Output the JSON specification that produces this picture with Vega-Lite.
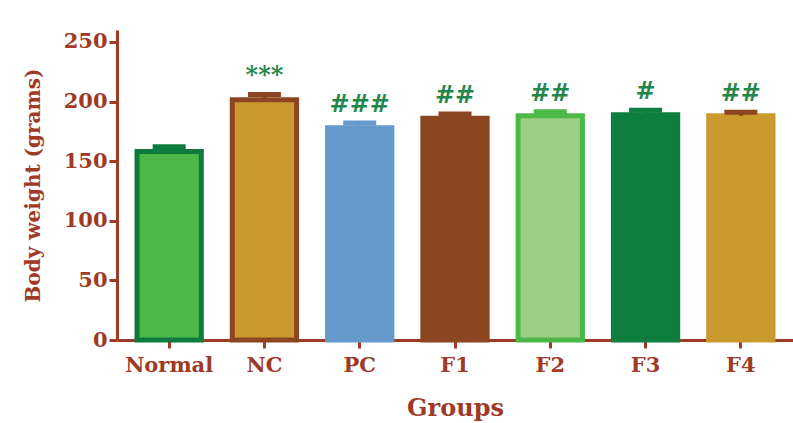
{
  "$schema": "https://vega.github.io/schema/vega-lite/v6.json",
  "width": 676,
  "height": 310,
  "autosize": "none",
  "padding": {"left": 117, "top": 30, "right": 0, "bottom": 83},
  "background": "white",
  "config": {"view": {"stroke": null}},
  "data": {
    "values": [
      {"group": "Normal", "weight": 158, "err": 162, "sig": ""},
      {"group": "NC", "weight": 201.5, "err": 206, "sig": "***"},
      {"group": "PC", "weight": 178, "err": 182, "sig": "###"},
      {"group": "F1", "weight": 186, "err": 189.5, "sig": "##"},
      {"group": "F2", "weight": 188, "err": 191.5, "sig": "##"},
      {"group": "F3", "weight": 189, "err": 192.7, "sig": "#"},
      {"group": "F4", "weight": 188, "err": 191, "sig": "##"}
    ]
  },
  "encoding": {
    "x": {
      "field": "group",
      "type": "nominal",
      "sort": null,
      "scale": {"paddingInner": 0.325, "paddingOuter": 0.21},
      "axis": {
        "title": "Groups",
        "labelAngle": 0,
        "labelFont": "DejaVu Serif",
        "labelFontWeight": "bold",
        "labelFontSize": 21,
        "labelColor": "#9E3A26",
        "labelPadding": 6,
        "titleFont": "DejaVu Serif",
        "titleFontWeight": "bold",
        "titleFontSize": 24,
        "titleColor": "#9E3A26",
        "titlePadding": 21,
        "domainColor": "#9E3A26",
        "domainWidth": 3,
        "tickColor": "#9E3A26",
        "tickWidth": 3,
        "tickSize": 8
      }
    }
  },
  "layer": [
    {
      "mark": {"type": "bar", "strokeWidth": 5},
      "encoding": {
        "y": {
          "field": "weight",
          "type": "quantitative",
          "scale": {"domain": [0, 250]},
          "axis": {
            "title": "Body weight (grams)",
            "values": [0, 50, 100, 150, 200, 250],
            "grid": false,
            "labelFont": "DejaVu Serif",
            "labelFontWeight": "bold",
            "labelFontSize": 21,
            "labelColor": "#9E3A26",
            "labelPadding": 2,
            "titleFont": "DejaVu Serif",
            "titleFontWeight": "bold",
            "titleFontSize": 20,
            "titleColor": "#9E3A26",
            "titlePadding": 20,
            "domainColor": "#9E3A26",
            "domainWidth": 3,
            "tickColor": "#9E3A26",
            "tickWidth": 3,
            "tickSize": 8
          }
        },
        "fill": {
          "field": "group",
          "type": "nominal",
          "legend": null,
          "scale": {
            "domain": ["Normal", "NC", "PC", "F1", "F2", "F3", "F4"],
            "range": ["#4CB848", "#CB9A2E", "#6699CC", "#8B4520", "#9CCF86", "#0E7E40", "#CB9A2E"]
          }
        },
        "stroke": {
          "field": "group",
          "type": "nominal",
          "legend": null,
          "scale": {
            "domain": ["Normal", "NC", "PC", "F1", "F2", "F3", "F4"],
            "range": ["#0E7B3E", "#8B4520", "#6699CC", "#8B4520", "#4CB848", "#0E7E40", "#CB9A2E"]
          }
        }
      }
    },
    {
      "mark": {"type": "rule", "strokeWidth": 4},
      "encoding": {
        "y": {"field": "weight", "type": "quantitative"},
        "y2": {"field": "err"},
        "color": {
          "field": "group",
          "type": "nominal",
          "legend": null,
          "scale": {
            "domain": ["Normal", "NC", "PC", "F1", "F2", "F3", "F4"],
            "range": ["#0E7B3E", "#8B4520", "#6699CC", "#8B4520", "#4CB848", "#0E7E40", "#8B4520"]
          }
        }
      }
    },
    {
      "mark": {"type": "tick", "size": 33, "thickness": 5, "opacity": 1},
      "encoding": {
        "y": {"field": "err", "type": "quantitative"},
        "color": {
          "field": "group",
          "type": "nominal",
          "legend": null,
          "scale": {
            "domain": ["Normal", "NC", "PC", "F1", "F2", "F3", "F4"],
            "range": ["#0E7B3E", "#8B4520", "#6699CC", "#8B4520", "#4CB848", "#0E7E40", "#8B4520"]
          }
        }
      }
    },
    {
      "mark": {"type": "text", "baseline": "alphabetic", "dy": -11, "font": "DejaVu Serif", "fontWeight": "bold", "fontSize": 24, "color": "#23874A"},
      "encoding": {
        "y": {"field": "err", "type": "quantitative"},
        "text": {"field": "sig"}
      }
    }
  ],
  "resolve": {"scale": {"color": "independent", "fill": "independent", "stroke": "independent"}}
}
